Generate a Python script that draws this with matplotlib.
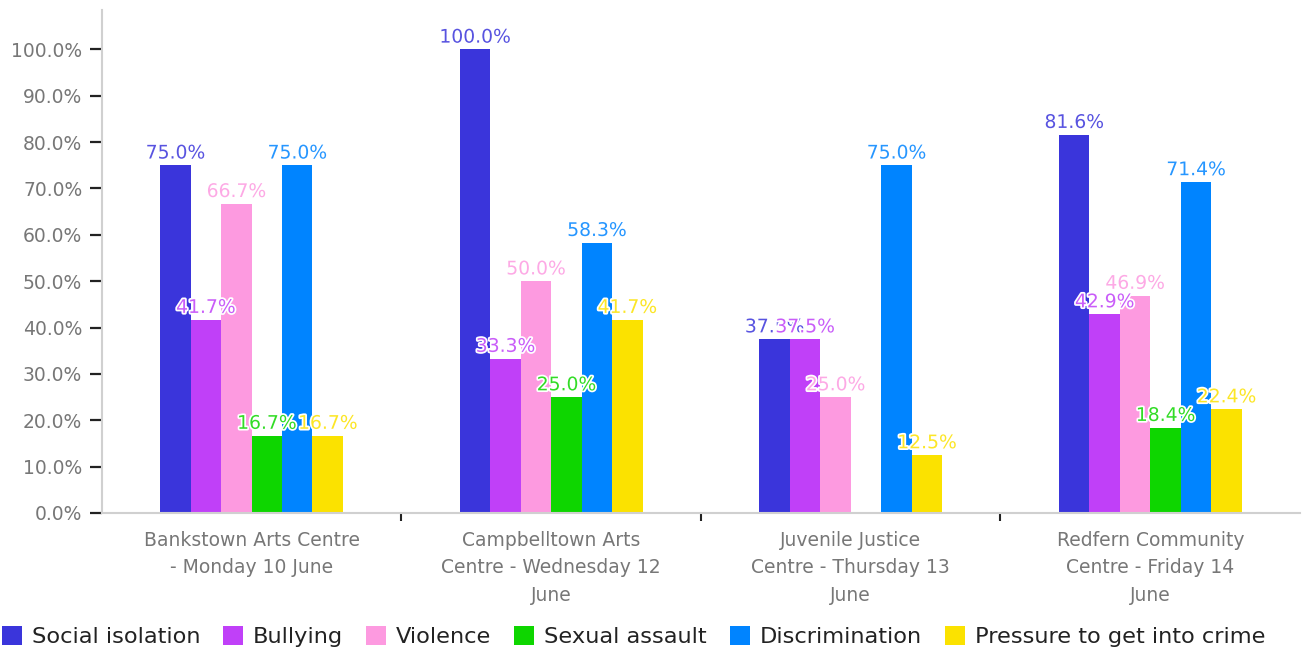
import numpy as np
import matplotlib
matplotlib.use("Agg")
import matplotlib.pyplot as plt
import matplotlib.patheffects as pe
from matplotlib.colors import to_rgb
from matplotlib.ticker import PercentFormatter

plt.rcParams['font.family'] = ['DejaVu Sans']

venues = [
    "Bankstown Arts Centre\n- Monday 10 June",
    "Campbelltown Arts\nCentre - Wednesday 12\nJune",
    "Juvenile Justice\nCentre - Thursday 13\nJune",
    "Redfern Community\nCentre - Friday 14\nJune",
]
issues = ["Social isolation", "Bullying", "Violence", "Sexual assault",
          "Discrimination", "Pressure to get into crime"]
social_isolation = [75.0, 100.0, 37.5, 81.6]
bullying = [41.7, 33.3, 37.5, 42.9]
violence = [66.7, 50.0, 25.0, 46.9]
sexual_assault = [16.7, 25.0, np.nan, 18.4]
discrimination = [75.0, 58.3, 75.0, 71.4]
pressure_crime = [16.7, 41.7, 12.5, 22.4]
colors = ["#3a35db", "#c040f8", "#fd9ae0", "#0ed600", "#0084ff", "#fbe200"]

series = [social_isolation, bullying, violence, sexual_assault,
          discrimination, pressure_crime]


def lighten(c, amount=0.15):
    r, g, b = to_rgb(c)
    return (r + (1 - r) * amount, g + (1 - g) * amount, b + (1 - b) * amount)


fig = plt.figure(figsize=(13.04, 6.53), dpi=100)
ax = fig.add_axes([0.078, 0.2144, 0.919, 0.7703])

x = np.arange(len(venues))
w = 0.1017
for k, (vals, name, col) in enumerate(zip(series, issues, colors)):
    vals = np.array(vals, dtype=float)
    pos = x + (k - 2.5) * w
    ax.bar(pos, np.nan_to_num(vals), width=w, color=col, label=name,
           edgecolor="none")
    # value labels above each bar, with a white halo
    for px, v in zip(pos, vals):
        if np.isnan(v):
            continue
        ax.annotate(f"{v:.1f}%", (px, v), xytext=(0, 2),
                    textcoords="offset points", ha="center", va="bottom",
                    fontsize=13.5, color=lighten(col),
                    path_effects=[pe.withStroke(linewidth=2.5, foreground="white")])

ax.set_xlim(-0.5, 3.5)
ax.set_ylim(0, 108.5)
ax.set_yticks(np.arange(0, 101, 10))
ax.yaxis.set_major_formatter(PercentFormatter(decimals=1))
ax.tick_params(axis="y", length=9, width=1.6, color="#222", pad=5,
               labelsize=13.5, labelcolor="#777")

# tick marks between groups, venue names centred under each group
ax.set_xticks([0.5, 1.5, 2.5])
ax.set_xticklabels([])
ax.set_xticks(x, minor=True)
ax.set_xticklabels(venues, minor=True, linespacing=1.55)
ax.tick_params(axis="x", which="major", direction="out", length=6,
               width=1.5, color="#222")
ax.tick_params(axis="x", which="minor", length=0, pad=13,
               labelsize=13.5, labelcolor="#777")

for s in ["top", "right"]:
    ax.spines[s].set_visible(False)
for s in ["left", "bottom"]:
    ax.spines[s].set_color("#d0d0d0")
    ax.spines[s].set_linewidth(1.5)

fig.legend(loc="lower left", bbox_to_anchor=(-0.009, -0.012), ncol=6,
           frameon=False, fontsize=16.2, handlelength=0.88, handleheight=0.88,
           handletextpad=0.45, columnspacing=1.02, labelcolor="#222",
           borderaxespad=0.2)

fig.savefig("out.png", dpi=100)
